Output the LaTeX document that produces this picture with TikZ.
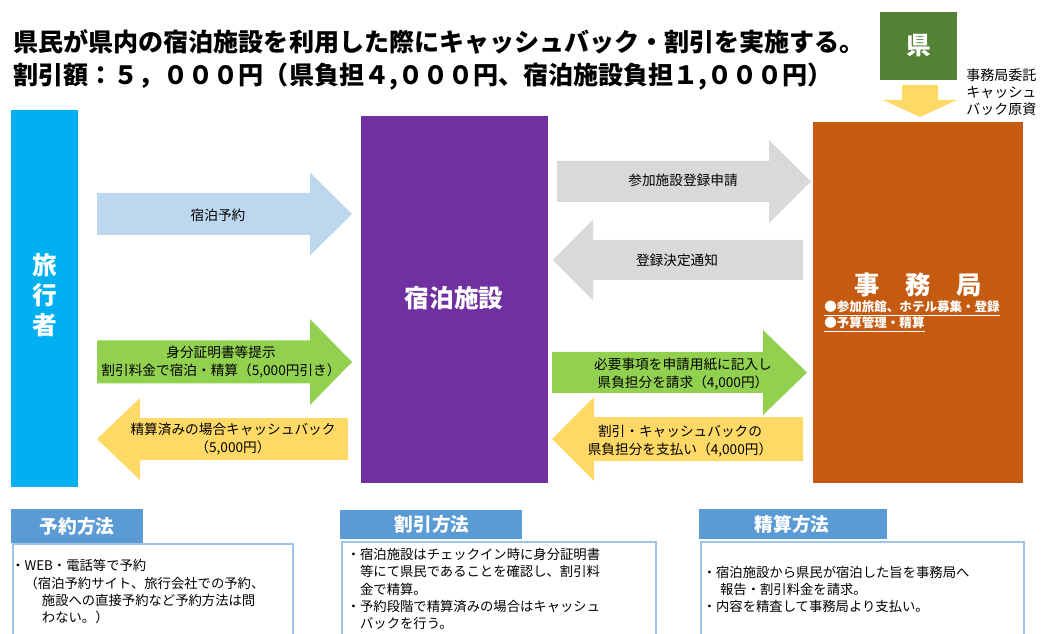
\documentclass[tikz,border=0pt]{standalone}
\usepackage{fontspec}
\setmainfont{Noto Sans CJK JP}

\definecolor{travelcyan}{HTML}{00B0F0}
\definecolor{hotelpurple}{HTML}{7030A0}
\definecolor{officeorange}{HTML}{C55A11}
\definecolor{prefgreen}{HTML}{548235}
\definecolor{bookblue}{HTML}{BDD7EE}
\definecolor{paygreen}{HTML}{92D050}
\definecolor{cashyellow}{HTML}{FFD966}
\definecolor{entrygray}{HTML}{D9D9D9}
\definecolor{headblue}{HTML}{5B9BD5}
\definecolor{frameblue}{HTML}{9DC3E6}

\tikzset{
  boxlabel/.style={text=white, font=\bfseries\fontsize{18.5pt}{22.5pt}\selectfont, inner sep=0pt, align=center},
  arrowlabel/.style={font=\fontsize{10.25pt}{13pt}\selectfont, align=center, inner sep=0pt},
  headlabel/.style={text=white, font=\bfseries\fontsize{14pt}{16pt}\selectfont, inner sep=0pt},
  notelabel/.style={font=\fontsize{10pt}{13pt}\selectfont, align=left, anchor=west, inner sep=0pt},
  noteframe/.style={draw=frameblue, line width=1.1pt, fill=white},
  titlelabel/.style={font=\bfseries\fontsize{18.8pt}{22pt}\selectfont, anchor=west, inner sep=0pt},
}

% block arrow: colour, tail x, head base x, tip x, centre y, shaft half, head half
\newcommand{\blockarrow}[7]{%
  \fill[#1] (#2,#5-#6) -- (#3,#5-#6) -- (#3,#5-#7) -- (#4,#5) -- (#3,#5+#7) -- (#3,#5+#6) -- (#2,#5+#6) -- cycle;}

\begin{document}
\begin{tikzpicture}[x=0.75pt,y=-0.75pt]

\useasboundingbox (0,0) rectangle (1042,634);

% Title
\node[titlelabel] (title) at (13,42) {県民が県内の宿泊施設を利用した際にキャッシュバック・割引を実施する。};
\node[titlelabel] (amount) at (13,77) {割引額：５，０００円（県負担４,０００円、宿泊施設負担１,０００円）};

% Main boxes
\fill[travelcyan] (11,110) rectangle (78,487); % Traveller
\node[boxlabel] (traveller) at (44.5,295) {旅\\行\\者};

\fill[hotelpurple] (361,116) rectangle (548,483); % Hotel
\node[boxlabel] (hotel) at (454,298) {宿泊施設};

\fill[officeorange] (813,122) rectangle (1023,483); % Office
\node[boxlabel, font=\bfseries\fontsize{19pt}{22pt}\selectfont] (office) at (918,285) {事　務　局};
\node[anchor=west, inner sep=0pt, text=white, align=left,
  font=\bfseries\fontsize{9.4pt}{9.75pt}\selectfont] (officetasks) at (824,316.5)
  {\underline{●参加旅館、ホテル募集・登録}\\\underline{●予算管理・精算}};

\fill[prefgreen] (880,12) rectangle (957,80); % Prefecture
\node[boxlabel] (pref) at (918.5,46) {県};

% Prefecture -> office
\fill[cashyellow] (902,85) -- (938,85) -- (938,100) -- (957,100) -- (920,117) -- (883,100) -- (902,100) -- cycle;
\node[anchor=west, inner sep=0pt, align=left, font=\fontsize{10.5pt}{12.75pt}\selectfont] (fund) at (966,92.5)
  {事務局委託\\キャッシュ\\バック原資};

% Traveller <-> hotel
\blockarrow{bookblue}{97}{310}{352}{214}{21}{41.5}
\node[arrowlabel] (booking) at (218,215) {宿泊予約};
\blockarrow{paygreen}{97}{310}{352}{362}{21.5}{43}
\node[arrowlabel] (checkin) at (221,362) {身分証明書等提示\\割引料金で宿泊・精算（5,000円引き）};
\blockarrow{cashyellow}{348}{140}{97}{439}{21}{41}
\node[arrowlabel] (cashback) at (233,439) {精算済みの場合キャッシュバック\\（5,000円）};

% Hotel <-> office
\blockarrow{entrygray}{557}{769}{811}{181.5}{20.5}{41.5}
\node[arrowlabel] (apply) at (683,180) {参加施設登録申請};
\blockarrow{entrygray}{803}{593}{553}{260}{20}{40.5}
\node[arrowlabel] (notice) at (677,260) {登録決定通知};
\blockarrow{paygreen}{552}{763}{807}{372.5}{20.5}{42.5}
\node[arrowlabel] (claim) at (683,374) {必要事項を申請用紙に記入し\\県負担分を請求（4,000円）};
\blockarrow{cashyellow}{803}{594}{552}{439}{22}{42}
\node[arrowlabel] (payment) at (680,441) {割引・キャッシュバックの\\県負担分を支払い（4,000円）};

% Notes
\draw[noteframe] (13,544) rectangle (293,660);
\fill[headblue] (11,509) rectangle (143,543);
\node[headlabel] (bookhead) at (77,526) {予約方法};
\node[notelabel] (booknote) at (11,592)
  {・WEB・電話等で予約\\\hspace*{1em}（宿泊予約サイト、旅行会社での予約、\\\hspace*{2.3em}施設への直接予約など予約方法は問\\\hspace*{2.3em}わない。）};

\draw[noteframe] (342,542) rectangle (656,660);
\fill[headblue] (340,510) rectangle (522,539);
\node[headlabel] (discounthead) at (432,524) {割引方法};
\node[notelabel] (discountnote) at (346.5,589)
  {・宿泊施設はチェックイン時に身分証明書\\\hspace*{1em}等にて県民であることを確認し、割引料\\\hspace*{1em}金で精算。\\・予約段階で精算済みの場合はキャッシュ\\\hspace*{1em}バックを行う。};

\draw[noteframe] (701,542) rectangle (1024,660);
\fill[headblue] (699,509) rectangle (887,539);
\node[headlabel] (settlehead) at (792,524) {精算方法};
\node[notelabel] (settlenote) at (702.5,589.5)
  {・宿泊施設から県民が宿泊した旨を事務局へ\\\hspace*{1.3em}報告・割引料金を請求。\\・内容を精査して事務局より支払い。};

\end{tikzpicture}
\end{document}
